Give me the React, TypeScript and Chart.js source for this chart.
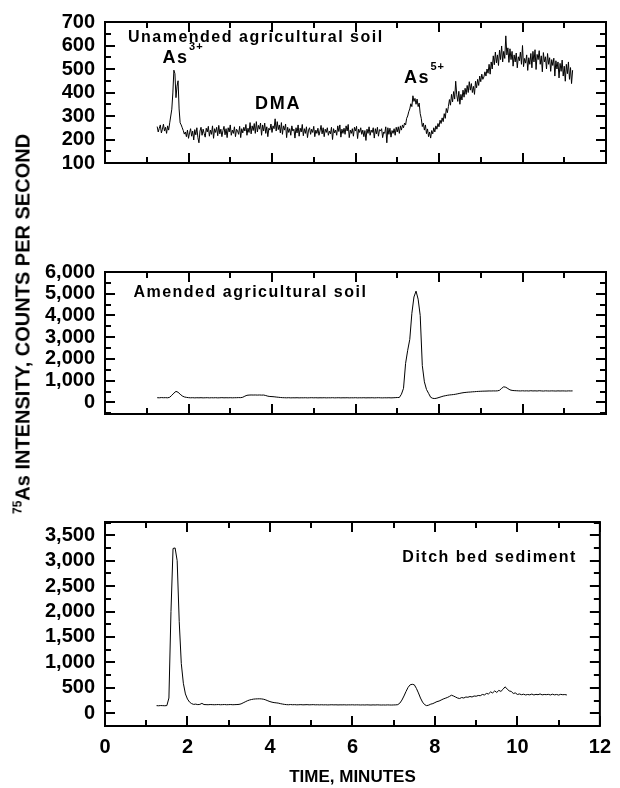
import React, { useEffect, useRef } from "react";
import { Chart, registerables } from "chart.js";

Chart.register(...registerables);

// Sampling grid of the chromatograms (minutes)
const T_START = 1.25;
const T_STEP_UNAMENDED = 0.025;
const T_STEP = 0.05;

// x axis ticks (minutes)
const xMinorTicks = [1, 3, 5, 7, 9, 11];
const xMajorTicks = [0, 2, 4, 6, 8, 10, 12];

// Panel 1: Unamended agricultural soil (counts per second), rows of 0.5 min (0.025 min step)
const unamended = [
  255, 232, 248, 262, 228, 244, 265, 236, 252, 226, 258, 240, 271, 300, 329, 398, 495, 480, 378, 427,
  450, 330, 271, 262, 250, 238, 223, 232, 212, 240, 205, 228, 246, 214, 236, 198, 242, 220, 250, 208,
  186, 236, 252, 218, 244, 226, 210, 248, 232, 256, 214, 240, 222, 258, 205, 246, 230, 252, 216, 260,
  224, 244, 212, 238, 256, 220, 246, 208, 250, 232, 262, 218, 240, 226, 254, 212, 244, 236, 222, 256,
  208, 246, 228, 252, 236, 264, 218, 248, 230, 272, 224, 258, 238, 268, 226, 276, 232, 260, 244, 270,
  218, 262, 236, 270, 226, 254, 212, 248, 240, 266, 230, 258, 246, 288, 236, 276, 242, 262, 228, 272,
  222, 258, 240, 266, 208, 252, 230, 246, 218, 258, 236, 244, 206, 250, 228, 262, 214, 248, 232, 264,
  216, 246, 226, 254, 208, 240, 250, 222, 244, 230, 256, 212, 240, 226, 248, 218, 236, 260, 224, 250,
  212, 244, 230, 250, 218, 236, 224, 252, 200, 246, 228, 240, 218, 258, 234, 262, 210, 244, 226, 248,
  222, 258, 236, 264, 208, 240, 226, 246, 214, 252, 236, 256, 204, 244, 230, 250, 222, 240, 212, 238,
  196, 244, 226, 254, 218, 240, 230, 250, 206, 246, 224, 252, 214, 242, 236, 246, 208, 232, 226, 254,
  186, 250, 222, 248, 210, 238, 226, 246, 218, 252, 232, 254, 226, 258, 240, 262, 250, 270, 262, 290,
  300, 318, 330, 352, 340, 386, 362, 375, 350, 372, 340, 355, 310, 290, 255, 270, 240, 262, 225, 245,
  212, 232, 206, 238, 224, 250, 232, 258, 244, 268, 254, 282, 268, 292, 276, 310, 290, 332, 314, 340,
  370, 346, 392, 360, 404, 372, 448, 390, 362, 405, 350, 392, 368, 410, 380, 418, 392, 430, 400, 446,
  410, 438, 400, 426, 392, 448, 420, 456, 430, 470, 446, 478, 456, 466, 488, 470, 500, 482, 520, 478,
  530, 500, 556, 518, 572, 526, 560, 515, 580, 540, 598, 530, 575, 545, 641, 560, 590, 528, 586, 540,
  575, 512, 560, 530, 568, 505, 552, 535, 572, 520, 600, 510, 545, 525, 560, 494, 548, 520, 566, 505,
  575, 530, 582, 498, 562, 540, 578, 520, 556, 488, 570, 530, 552, 500, 566, 520, 548, 490, 540, 515,
  546, 470, 535, 500, 530, 462, 524, 490, 538, 470, 512, 448, 520, 480, 530, 456, 506, 438, 495,
];

// Panel 2: Amended agricultural soil, rows of 0.5 min (0.05 min step)
const amended = [
  220, 215, 225, 218, 222, 215, 240, 330, 430, 510,
  470, 380, 300, 255, 235, 222, 215, 220, 212, 218,
  214, 220, 212, 216, 220, 212, 218, 214, 220, 212,
  216, 222, 214, 218, 215, 220, 214, 218, 220, 224,
  222, 240, 290, 330, 340, 345, 342, 345, 340, 345,
  338, 342, 320, 290, 275, 270, 262, 250, 240, 230,
  222, 218, 214, 220, 212, 216, 214, 218, 212, 216,
  214, 218, 212, 216, 220, 214, 218, 212, 216, 214,
  218, 212, 216, 214, 220, 212, 216, 218, 212, 216,
  214, 218, 212, 216, 214, 220, 212, 216, 214, 218,
  212, 216, 214, 218, 212, 216, 220, 214, 212, 216,
  214, 218, 212, 216, 222, 228, 230, 380, 650, 1800,
  2400, 2900, 4100, 4850, 5120, 4750, 4000, 1700, 950, 600,
  420, 240, 190, 180, 200, 230, 260, 290, 310, 330,
  345, 355, 365, 380, 400, 420, 440, 455, 465, 475,
  480, 490, 495, 505, 510, 515, 520, 522, 525, 530,
  528, 532, 530, 535, 560, 650, 720, 700, 640, 580,
  555, 545, 540, 535, 530, 538, 530, 535, 528, 540,
  530, 535, 528, 540, 532, 525, 535, 530, 528, 534,
  530, 526, 534, 528, 532, 530, 526, 534, 530, 532,
];

// Panel 3: Ditch bed sediment, rows of 0.5 min (0.05 min step)
const ditch = [
  150, 148, 152, 150, 148, 152, 300, 2000, 3240, 3250,
  3000, 1800, 980, 590, 380, 280, 220, 190, 175, 180,
  170, 175, 195, 172, 170, 168, 172, 170, 168, 170,
  172, 168, 170, 172, 168, 170, 172, 168, 170, 172,
  175, 185, 205, 225, 245, 260, 270, 278, 282, 284,
  285, 282, 275, 262, 245, 230, 218, 210, 205, 200,
  190, 182, 175, 170, 168, 172, 168, 170, 166, 168,
  170, 166, 168, 170, 166, 168, 170, 166, 168, 165,
  168, 165, 167, 164, 166, 168, 165, 167, 164, 166,
  165, 167, 164, 166, 165, 167, 164, 166, 165, 163,
  165, 163, 166, 164, 162, 165, 163, 166, 164, 162,
  164, 162, 165, 163, 162, 164, 165, 170, 200, 260,
  340, 430, 510, 560, 570, 560, 490, 400, 300, 220,
  170, 150, 160, 180, 190, 210, 230, 240, 260, 280,
  295, 310, 330, 355, 340, 320, 300, 290, 310, 300,
  320, 315, 330, 320, 340, 335, 350, 345, 370, 360,
  390, 380, 420, 400, 440, 410, 450, 430, 470, 520,
  480, 440, 430, 390, 400, 370, 380, 365, 375, 360,
  370, 362, 378, 360, 372, 365, 380, 362, 370, 366,
  372, 360, 375, 362, 370, 358, 372, 365, 368, 360,
];

// y axis ticks per panel
const y1Major = [100, 200, 300, 400, 500, 600, 700];
const y1Minor = [150, 250, 350, 450, 550, 650];
const y2Major = [0, 1000, 2000, 3000, 4000, 5000, 6000];
const y2Minor = [-500, 500, 1500, 2500, 3500, 4500, 5500];
const y3Major = [0, 500, 1000, 1500, 2000, 2500, 3000, 3500];
const y3Minor = [-250, 250, 750, 1250, 1750, 2250, 2750, 3250, 3750];

const FONT = "'Liberation Sans', Arial, Helvetica, sans-serif";

type Label = { text: string; sup?: string; x: number; y: number; size: number; spacing: number };

const labels1: Label[] = [
  { text: "Unamended agricultural soil", x: 0.55, y: 617, size: 16, spacing: 1.5 },
  { text: "As", sup: "3+", x: 1.38, y: 526, size: 18, spacing: 1.5 },
  { text: "DMA", x: 3.59, y: 331, size: 18, spacing: 1.8 },
  { text: "As", sup: "5+", x: 7.16, y: 442, size: 18, spacing: 1.5 },
];
const labels2: Label[] = [{ text: "Amended agricultural soil", x: 0.68, y: 4856, size: 16, spacing: 1.5 }];
const labels3: Label[] = [{ text: "Ditch bed sediment", x: 7.21, y: 2964, size: 16, spacing: 1.5 }];

const decorPlugin = {
  id: "panelDecor",
  afterDraw(chart: any, _args: any, opts: any) {
    const { ctx, chartArea } = chart;
    const { left, right, top, bottom } = chartArea;
    const xs = chart.scales.x;
    const ys = chart.scales.y;
    ctx.save();
    ctx.strokeStyle = "#000";
    ctx.lineWidth = 2;
    ctx.strokeRect(left, top, right - left, bottom - top);
    ctx.beginPath();
    const xt = (v: number, len: number) => {
      const px = Math.round(xs.getPixelForValue(v));
      ctx.moveTo(px, top);
      ctx.lineTo(px, top + len);
      ctx.moveTo(px, bottom);
      ctx.lineTo(px, bottom - len);
    };
    const yt = (v: number, len: number) => {
      const py = Math.round(ys.getPixelForValue(v));
      if (py < top || py > bottom) return;
      ctx.moveTo(left, py);
      ctx.lineTo(left + len, py);
      ctx.moveTo(right, py);
      ctx.lineTo(right - len, py);
    };
    xMajorTicks.forEach((v) => xt(v, 10));
    xMinorTicks.forEach((v) => xt(v, 6));
    (opts.yMajor || []).forEach((v: number) => yt(v, 10));
    (opts.yMinor || []).forEach((v: number) => yt(v, 6));
    ctx.stroke();

    ctx.fillStyle = "#000";
    ctx.textBaseline = "alphabetic";
    ctx.textAlign = "left";
    (opts.labels || []).forEach((l: Label) => {
      const px = xs.getPixelForValue(l.x);
      const py = ys.getPixelForValue(l.y);
      ctx.font = `bold ${l.size}px ${FONT}`;
      (ctx as any).letterSpacing = `${l.spacing}px`;
      ctx.fillText(l.text, px, py);
      if (l.sup) {
        const w = ctx.measureText(l.text).width;
        ctx.font = `bold 11px ${FONT}`;
        (ctx as any).letterSpacing = "1px";
        ctx.fillText(l.sup, px + w + 0.5, py - 13);
      }
    });
    ctx.restore();
  },
};

type PanelSpec = {
  values: number[];
  step: number;
  min: number;
  max: number;
  yMajor: number[];
  yMinor: number[];
  labels: Label[];
  padTop: number;
  padBottom: number;
  showX: boolean;
};

const fmt = (v: number) => Number(v).toLocaleString("en-US");

function makeConfig(p: PanelSpec): any {
  return {
    type: "line",
    data: {
      datasets: [
        {
          data: p.values.map((v, i) => ({ x: T_START + i * p.step, y: v })),
          borderColor: "#000",
          borderWidth: 1,
          pointRadius: 0,
          fill: false,
          tension: 0,
        },
      ],
    },
    options: {
      responsive: false,
      animation: false,
      events: [],
      layout: { padding: { left: 0, right: 14, top: p.padTop, bottom: p.padBottom } },
      plugins: {
        legend: { display: false },
        tooltip: { enabled: false },
        panelDecor: { yMajor: p.yMajor, yMinor: p.yMinor, labels: p.labels },
      },
      scales: {
        x: {
          type: "linear",
          min: 0,
          max: 12,
          display: p.showX,
          grid: { display: false, drawTicks: false },
          border: { display: false },
          ticks: {
            color: "#000",
            padding: 9,
            maxRotation: 0,
            autoSkip: false,
            font: { family: FONT, size: 20, weight: "bold" },
            callback: (v: number) => fmt(v),
          },
          afterBuildTicks: (s: any) => {
            s.ticks = xMajorTicks.map((v) => ({ value: v }));
          },
          afterFit: (s: any) => {
            s.height = 62;
          },
          title: {
            display: true,
            text: "TIME, MINUTES",
            color: "#000",
            font: { family: FONT, size: 17, weight: "bold" },
            padding: { top: 0, bottom: 0 },
          },
        },
        y: {
          type: "linear",
          min: p.min,
          max: p.max,
          grid: { display: false, drawTicks: false },
          border: { display: false },
          ticks: {
            color: "#000",
            padding: 10,
            autoSkip: false,
            font: { family: FONT, size: 20, weight: "bold" },
            callback: (v: number) => fmt(v),
          },
          afterBuildTicks: (s: any) => {
            s.ticks = p.yMajor.map((v) => ({ value: v }));
          },
          afterFit: (s: any) => {
            s.width = 105;
          },
        },
      },
    },
    plugins: [decorPlugin],
  };
}

function Panel({ spec, top, height }: { spec: PanelSpec; top: number; height: number }) {
  const ref = useRef<HTMLCanvasElement>(null);
  useEffect(() => {
    const chart = new Chart(ref.current as HTMLCanvasElement, makeConfig(spec));
    return () => chart.destroy();
  }, [spec]);
  return (
    <canvas
      ref={ref}
      width={620}
      height={height}
      style={{ position: "absolute", left: 0, top, width: 620, height, display: "block" }}
    />
  );
}

const panel1: PanelSpec = {
  values: unamended, step: T_STEP_UNAMENDED, min: 100, max: 700, yMajor: y1Major, yMinor: y1Minor,
  labels: labels1, padTop: 20, padBottom: 15, showX: false,
};
const panel2: PanelSpec = {
  values: amended, step: T_STEP, min: -530, max: 6000, yMajor: y2Major, yMinor: y2Minor,
  labels: labels2, padTop: 22, padBottom: 14, showX: false,
};
const panel3: PanelSpec = {
  values: ditch, step: T_STEP, min: -250, max: 3760, yMajor: y3Major, yMinor: y3Minor,
  labels: labels3, padTop: 22, padBottom: 0, showX: true,
};

export default function App() {
  return (
    <div style={{ position: "absolute", left: 0, top: 0, width: 620, height: 788, background: "#fff", overflow: "hidden" }}>
      <Panel spec={panel1} top={0} height={240} />
      <Panel spec={panel2} top={250} height={240} />
      <Panel spec={panel3} top={500} height={288} />
      <div
        style={{
          position: "absolute",
          left: 24,
          top: 324,
          transform: "translate(-50%, -50%) rotate(-90deg)",
          whiteSpace: "nowrap",
          fontFamily: FONT,
          fontWeight: "bold",
          fontSize: 20,
          lineHeight: "24px",
          color: "#000",
        }}
      >
        <span style={{ fontSize: 12, position: "relative", top: -8 }}>75</span>
        As INTENSITY, COUNTS PER SECOND
      </div>
    </div>
  );
}
